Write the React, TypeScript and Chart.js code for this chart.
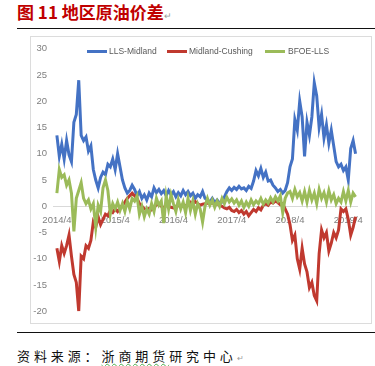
import React, { useEffect, useRef } from 'react';
import { Chart, registerables } from 'chart.js';
Chart.register(...registerables);

// Half-month samples, counted in months since 2014/4
const monthStep = 0.5;
const seriesNames = ['LLS-Midland', 'Midland-Cushing', 'BFOE-LLS'];
const seriesColors = ['#4472C4', '#C0392F', '#9BBB59'];
const xTickLabels = ['2014/4', '2015/4', '2016/4', '2017/4', '2018/4', '2019/4'];

const llsMidland = [
  13.5, 9.5, 11.8, 9.0, 12.5, 9.8, 8.5, 16.0, 17.5, 24.0,
  13.5, 12.5, 13.2, 10.5, 11.5, 7.0, 5.0, 3.5, 5.5, 6.5,
  6.0, 8.0, 7.5, 9.0, 7.0, 10.0, 7.5, 5.0, 3.5, 2.5,
  3.0, 4.0, 3.2, 2.0, 2.8, 1.5, 2.2, 1.2, 2.5, 1.8,
  3.5, 2.6, 3.2, 2.4, 3.0, 2.0, 3.0, 2.2, 2.8, 1.8,
  2.6, 2.0, 3.0, 2.2, 2.8, 2.0, 2.5, 1.5, 2.2, 1.8,
  2.8, 1.5, 1.2, 0.8, 1.5, 0.7, 1.2, 0.6, 0.8, 1.8,
  2.8, 3.5, 3.0, 3.6, 3.2, 3.8, 3.3, 3.5, 3.0, 3.8,
  3.4, 4.8, 6.8, 5.8, 7.2, 5.5, 6.5, 4.8, 5.0, 4.0,
  3.5, 2.8, 3.2, 2.5, 3.0, 4.5, 7.5, 9.0, 16.5, 14.5,
  20.0, 17.0, 9.5, 16.0, 13.5, 17.0, 23.5, 21.0, 15.0, 17.5,
  13.0, 15.5, 12.0, 14.5, 11.5, 8.5, 7.5, 8.0, 6.8, 7.5,
  5.0, 11.0, 12.5, 10.0
];

const midlandCushing = [
  -8.0, -10.5, -7.5, -9.0, -7.5, -5.5, -9.5, -13.0, -14.5, -20.0,
  -9.5, -10.0, -7.5, -8.0, -6.5, -3.0, -4.0, -2.0, -3.5, -2.5,
  -1.5, -1.8, -0.8, -1.2, -0.5, -1.0, -0.3, 0.2, 0.8, 1.5,
  2.0, 2.5, 2.0, 1.5, 0.5, 0.0, -0.5, -0.6, -0.4, -0.7,
  -0.3, 0.3, 0.4, 0.0, -0.3, 0.2, 0.0, -0.2, -0.3, 0.0,
  0.2, -0.2, 0.3, 0.0, 0.5, 0.8, 0.4, 0.9, 0.5, 0.2,
  0.4, 0.5, 0.6, 0.4, 0.7, 0.3, 0.5, 0.2, 0.0, -0.3,
  -0.5, -0.2, -0.8, -1.0, -0.6, -1.2, -0.8, -1.5, -1.0, -1.8,
  -1.2, -0.6, -1.0, -0.3, -0.7, 0.2, 0.5, 0.2, 0.8, 0.6,
  1.0, 0.7, 0.3, 0.5, -0.5, -1.5, -3.5, -6.5, -5.5, -10.0,
  -12.0, -8.0, -11.0, -12.5, -15.5, -14.5, -17.0, -18.0, -9.0, -4.5,
  -6.0, -5.0, -8.5, -7.0, -5.0, -6.0, -4.5, -0.5, -1.0, -0.5,
  -2.5, -5.5, -4.0, -2.0
];

const bfoeLls = [
  2.5, 7.0, 5.5, 6.0, 4.0, 5.0, 2.5, -4.8, 1.5, 3.0,
  4.5, 1.5, 0.5, 1.2, -0.5, 0.5, -4.0, 0.2, -1.0, 3.5,
  5.0, 3.0, -1.5, 0.5, -0.5, 0.8, -0.8, 0.5, -1.0, 1.0,
  -0.5, 1.5, 1.0, 2.0, -1.5, 0.0, -2.0, -0.5, -1.5, 0.5,
  -1.0, 1.5, 0.2, 1.0, -3.2, 2.0, -0.5, 2.2, 0.5, -1.0,
  1.2, -0.5, 0.8, -1.2, 1.5, -0.8, 1.0, -1.5, 0.5, -0.5,
  -3.0, 0.0, 1.5, 0.2, 1.2, -0.2, 1.0, 0.0, 1.5, 0.5,
  1.7, 0.8, 1.4, 0.6, 1.2, 0.2, 1.0, -0.2, 0.8, 0.0,
  1.2, 0.3, 1.0, 0.5, 1.5, 0.4, 1.2, 0.6, 1.6, 0.8,
  1.8, 1.0, 2.0, -1.2, 1.5, 2.5, 2.8, 1.5, 3.2, 1.8,
  2.6, 1.0, 2.8, 0.8, 3.0, 1.2, 2.5, 0.5, 3.2, 1.5,
  2.6, 0.8, 3.0, 1.2, 2.2, 0.5, 1.5, 0.8, 2.8, 1.0,
  3.0, 0.8, 2.5, 1.8
];

const seriesValues = [llsMidland, midlandCushing, bfoeLls];

function toPoints(values: number[]) {
  return values.map((y, i) => ({ x: i * monthStep, y }));
}

function ChartBox() {
  const ref = useRef<HTMLCanvasElement | null>(null);
  useEffect(() => {
    if (!ref.current) return;
    Chart.defaults.font.family = '"Liberation Sans", Arial, sans-serif';
    const chart = new Chart(ref.current, {
      type: 'line',
      data: {
        datasets: seriesNames.map((name, k) => ({
          label: name,
          data: toPoints(seriesValues[k]),
          borderColor: seriesColors[k],
          backgroundColor: seriesColors[k],
          borderWidth: 3,
          pointRadius: 0,
          tension: 0,
          fill: false,
          order: 2 - k,
        })),
      },
      options: {
        animation: false,
        responsive: false,
        maintainAspectRatio: false,
        layout: { padding: { top: 10, bottom: 11, right: 6, left: 0 } },
        plugins: { legend: { display: false }, tooltip: { enabled: false } },
        scales: {
          x: {
            type: 'linear',
            position: { y: 0 } as any,
            min: -0.8,
            max: 62,
            grid: { display: false, drawTicks: false },
            border: { display: true, color: '#d9d9d9', width: 1 },
            ticks: {
              stepSize: 12,
              includeBounds: false,
              autoSkip: false,
              maxRotation: 0,
              padding: 8,
              color: '#7f7f7f',
              font: { size: 9.5 },
              callback: (v: any) => xTickLabels[Math.round(Number(v) / 12)] ?? '',
            },
          },
          y: {
            type: 'linear',
            min: -20,
            max: 30,
            grid: { display: false, drawTicks: false },
            border: { display: false },
            afterFit: (s: any) => { s.width = 22; },
            ticks: {
              stepSize: 5,
              padding: 6,
              color: '#7f7f7f',
              font: { size: 9.5 },
            },
          },
        },
      },
    });
    return () => chart.destroy();
  }, []);
  return <canvas ref={ref} width={340} height={286} style={{ position: 'absolute', left: 31, top: 37, width: 340, height: 286 }} />;
}

const legendItems = [
  { line: 87, text: 109 },
  { line: 167, text: 189 },
  { line: 265, text: 288 },
];

export default function App() {
  return (
    <div style={{ position: 'absolute', left: 0, top: 0, width: 375, height: 366, background: '#fff', overflow: 'hidden' }}>
      <div style={{ position: 'absolute', left: 17, top: 2, height: 20, lineHeight: '20px', whiteSpace: 'nowrap', fontFamily: '"Noto Sans CJK SC", sans-serif', fontWeight: 700, fontSize: 17, color: '#C00000' }}>
        图 11 地区原油价差<span style={{ fontSize: 9, fontWeight: 400, color: '#9a9a9a' }}>↵</span>
      </div>
      <div style={{ position: 'absolute', left: 17, top: 28, width: 358, height: 1, background: '#111' }} />
      <div style={{ position: 'absolute', left: 30, top: 36, width: 342, height: 288, border: '1px solid #dcdcdc', boxSizing: 'border-box' }} />
      <ChartBox />
      {legendItems.map((it, k) => (
        <React.Fragment key={k}>
          <div style={{ position: 'absolute', left: it.line, top: 50, width: 20, height: 2.6, background: seriesColors[k] }} />
          <div style={{ position: 'absolute', left: it.text, top: 45, height: 12, lineHeight: '12px', whiteSpace: 'nowrap', fontFamily: '"Liberation Sans", Arial, sans-serif', fontSize: 8.5, color: '#595959' }}>{seriesNames[k]}</div>
        </React.Fragment>
      ))}
      <div style={{ position: 'absolute', left: 17, top: 332, width: 358, height: 1, background: '#111' }} />
      <div style={{ position: 'absolute', left: 17, top: 346, height: 20, lineHeight: '20px', whiteSpace: 'nowrap', fontFamily: '"Noto Sans CJK SC", sans-serif', fontSize: 13, letterSpacing: 3.9, color: '#111' }}>
        资料来源：<span style={{ textDecoration: 'underline wavy #4caf50', textDecorationThickness: 1, textUnderlineOffset: 2 }}>浙商期货</span>研究中心<span style={{ fontSize: 8, letterSpacing: 0, color: '#9a9a9a' }}>↵</span>
      </div>
    </div>
  );
}
